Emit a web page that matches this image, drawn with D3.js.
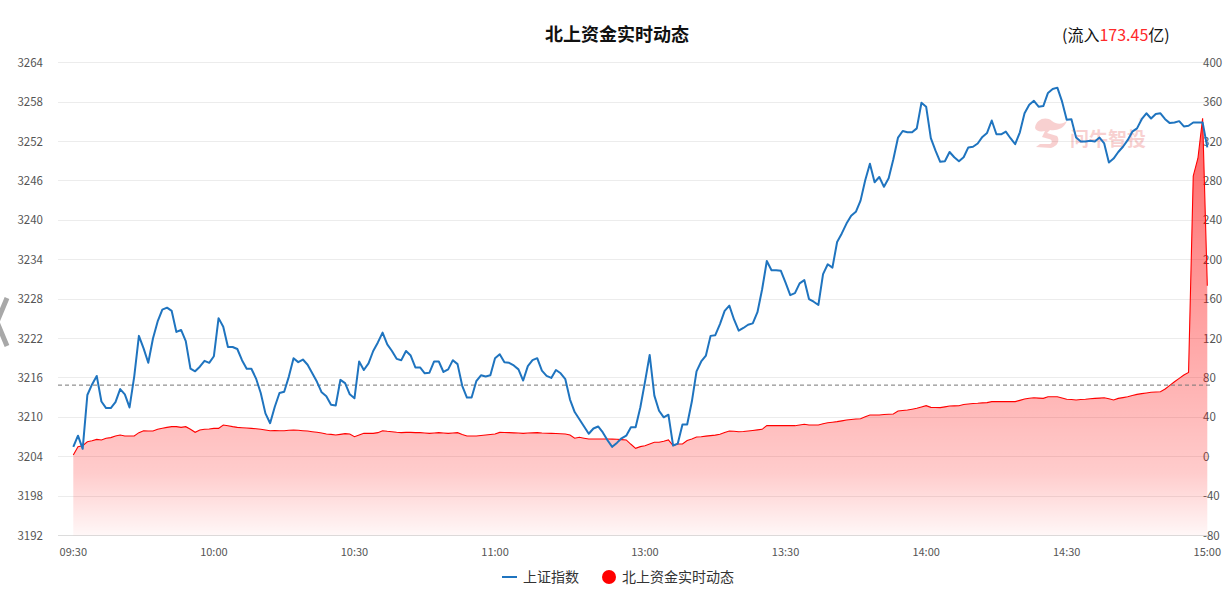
<!DOCTYPE html>
<html>
<head>
<meta charset="utf-8">
<script src="https://cdn.jsdelivr.net/npm/d3@7"></script>
<style>
  html, body { margin: 0; padding: 0; background: #fff; }
  svg { display: block; font-family: "Noto Sans CJK SC", "Noto Sans", sans-serif; }
</style>
</head>
<body>
<svg id="chart" width="1225" height="605"></svg>
<script>
// ---------- data ----------
// time categories: morning session, then afternoon session
const morningTimes = [];
for (let m = 9 * 60 + 30; m <= 11 * 60 + 30; m++) morningTimes.push(m);
const afternoonTimes = [];
for (let m = 12 * 60 + 59; m <= 15 * 60; m++) afternoonTimes.push(m);
const fmt = m => String(Math.floor(m / 60)).padStart(2, "0") + ":" + String(m % 60).padStart(2, "0");
const times = morningTimes.concat(afternoonTimes).map(fmt);

const xTickLabels = ["09:30", "10:00", "10:30", "11:00", "13:00", "13:30", "14:00", "14:30", "15:00"];
const leftTicks = [3192, 3198, 3204, 3210, 3216, 3222, 3228, 3234, 3240, 3246, 3252, 3258, 3264];
const rightTicks = [-80, -40, 0, 40, 80, 120, 160, 200, 240, 280, 320, 360, 400];
const prevClose = 3214.9;
const inflowTotal = "173.45";

// 上证指数
const shIndex = [
  3205.5, 3207.2, 3205.2, 3213.4, 3215.0, 3216.3, 3212.4, 3211.4, 3211.4, 3212.3,
  3214.3, 3213.5, 3211.5, 3216.2, 3222.4, 3220.5, 3218.3, 3222.0, 3224.6, 3226.4,
  3226.7, 3226.2, 3223.0, 3223.3, 3221.6, 3217.4, 3217.0, 3217.7, 3218.6, 3218.3,
  3219.3, 3225.1, 3223.8, 3220.7, 3220.7, 3220.4, 3218.7, 3217.4, 3217.4, 3215.9,
  3213.7, 3210.6, 3209.1, 3211.6, 3213.7, 3213.9, 3216.2, 3219.0, 3218.4, 3218.8,
  3218.0, 3216.7, 3215.4, 3213.8, 3213.2, 3211.9, 3211.8, 3215.7, 3215.2, 3213.5,
  3212.9, 3218.5, 3217.2, 3218.2, 3220.1, 3221.4, 3222.9, 3221.1, 3220.1, 3218.9,
  3218.7, 3220.1, 3219.4, 3217.6, 3217.6, 3216.7, 3216.8, 3218.5, 3218.5, 3216.9,
  3217.3, 3218.7, 3218.1, 3214.8, 3213.0, 3213.0, 3215.5, 3216.4, 3216.2, 3216.4,
  3219.0, 3219.6, 3218.4, 3218.3, 3217.9, 3217.3, 3215.6, 3217.8, 3218.7, 3219.0,
  3217.1, 3216.3, 3216.0, 3217.2, 3216.7, 3215.8, 3212.7, 3210.8, 3209.7, 3208.6,
  3207.5, 3208.3, 3208.6, 3207.7, 3206.5, 3205.5, 3206.1, 3206.8, 3207.2, 3208.5,
  3208.5, 3211.5, 3215.4, 3219.5, 3213.3, 3211.0, 3210.0, 3210.4, 3205.7, 3206.0,
  3208.9, 3208.9, 3212.4, 3217.0, 3218.5, 3219.4, 3222.4, 3222.5, 3224.2, 3226.2,
  3227.0, 3224.9, 3223.2, 3223.6, 3224.1, 3224.3, 3226.0, 3229.5, 3233.8, 3232.4,
  3232.4, 3232.3, 3230.5, 3228.6, 3228.9, 3230.4, 3230.9, 3228.0, 3227.6, 3227.1,
  3231.8, 3233.3, 3232.8, 3236.7, 3238.0, 3239.5, 3240.7, 3241.3, 3243.0, 3246.1,
  3248.6, 3245.8, 3246.6, 3245.1, 3246.4, 3249.3, 3252.6, 3253.6, 3253.4, 3253.4,
  3254.0, 3257.9, 3257.3, 3252.5, 3250.6, 3248.9, 3249.0, 3250.4, 3249.6, 3249.0,
  3249.6, 3251.1, 3251.2, 3251.7, 3252.7, 3253.3, 3255.2, 3253.1, 3253.1, 3253.5,
  3252.5, 3251.6, 3253.4, 3256.3, 3257.6, 3258.2, 3257.3, 3257.4, 3259.4, 3260.0,
  3260.2, 3258.1, 3255.3, 3255.4, 3252.6, 3252.0, 3252.0, 3252.1, 3252.0, 3252.6,
  3251.7, 3248.8, 3249.4, 3250.4, 3251.2, 3252.2, 3253.5, 3254.0, 3255.4, 3256.3,
  3255.5, 3256.2, 3256.3, 3255.4, 3254.8, 3254.9, 3255.1, 3254.3, 3254.4, 3254.9,
  3254.9, 3254.9, 3251.1
];

// 北上资金实时动态 (亿)
const northFlow = [
  1.7, 10.2, 11.2, 15.2, 16.2, 17.6, 17.0, 18.7, 19.4, 21.0,
  22.0, 21.0, 21.0, 21.0, 24.4, 26.4, 26.1, 26.1, 27.8, 28.8,
  29.8, 30.5, 30.5, 29.8, 30.5, 27.8, 24.8, 27.1, 27.8, 28.1,
  28.8, 28.8, 32.2, 31.5, 30.5, 29.8, 29.4, 29.1, 28.8, 28.4,
  27.8, 27.1, 26.4, 26.6, 26.4, 26.4, 26.8, 27.1, 26.8, 26.4,
  26.1, 25.4, 24.8, 24.1, 23.1, 22.7, 22.0, 22.7, 23.4, 23.1,
  20.3, 22.0, 23.7, 23.7, 23.7, 24.4, 26.4, 25.8, 25.4, 24.8,
  24.4, 24.7, 24.7, 24.4, 24.4, 24.0, 23.7, 24.0, 24.4, 24.0,
  23.7, 24.0, 24.4, 22.5, 21.0, 21.0, 21.0, 21.5, 22.0, 22.5,
  23.0, 24.7, 24.5, 24.4, 24.2, 24.0, 23.7, 24.0, 24.2, 24.4,
  24.0, 23.8, 23.7, 23.5, 23.3, 23.0, 22.0, 18.7, 19.7, 18.8,
  18.0, 18.0, 18.0, 18.0, 17.9, 17.8, 17.7, 17.3, 17.0, 12.6,
  8.5, 10.2, 11.2, 12.9, 14.6, 14.6, 15.6, 17.0, 11.2, 12.9,
  12.9, 16.5, 18.0, 20.0, 20.3, 20.9, 21.4, 21.9, 22.7, 24.5,
  26.1, 25.8, 25.4, 25.6, 26.1, 26.6, 27.2, 27.8, 31.5, 31.5,
  31.5, 31.5, 31.5, 31.5, 31.5, 32.2, 32.9, 32.2, 32.2, 32.2,
  33.5, 34.5, 35.0, 35.6, 36.4, 37.3, 37.8, 38.2, 38.6, 40.5,
  42.3, 42.3, 42.3, 42.8, 43.1, 43.4, 46.4, 46.9, 47.4, 48.2,
  49.1, 50.5, 51.8, 50.1, 49.9, 49.8, 50.6, 51.5, 51.6, 51.8,
  53.0, 53.5, 54.0, 54.2, 54.6, 54.9, 55.9, 55.9, 55.9, 55.9,
  55.9, 55.9, 57.2, 58.6, 59.3, 59.9, 59.5, 59.2, 60.9, 60.9,
  60.9, 59.6, 58.3, 58.0, 57.6, 58.0, 58.3, 58.8, 59.2, 59.5,
  59.9, 58.8, 57.6, 59.2, 60.0, 60.9, 62.1, 63.3, 64.0, 64.7,
  65.4, 65.7, 66.0, 68.7, 72.4, 76.1, 79.5, 82.9, 85.6, 285.0,
  303.0, 343.5, 173.45
];

// ---------- drawing ----------
const svg = d3.select("#chart");
const plotTop = 62.7, plotBottom = 535.5;
const gridLeft = 58, gridRight = 1210;

const x = d3.scalePoint().domain(times).range([73.3, 1207.3]);
const yL = d3.scaleLinear().domain([3192, 3264]).range([plotBottom, plotTop]);
const yR = d3.scaleLinear().domain([-80, 400]).range([plotBottom, plotTop]);

// gradient for area
const defs = svg.append("defs");
const grad = defs.append("linearGradient")
  .attr("id", "redGrad").attr("gradientUnits", "userSpaceOnUse")
  .attr("x1", 0).attr("x2", 0)
  .attr("y1", yR(d3.max(northFlow))).attr("y2", plotBottom);
[[0, 0.62], [0.3, 0.45], [0.68, 0.28], [0.85, 0.2], [1, 0.03]].forEach(([o, a]) =>
  grad.append("stop").attr("offset", o).attr("stop-color", "#ff0000").attr("stop-opacity", a));

// grid lines
svg.append("g").selectAll("line").data(leftTicks).join("line")
  .attr("x1", gridLeft).attr("x2", gridRight)
  .attr("y1", d => yL(d)).attr("y2", d => yL(d))
  .attr("stroke", d => d === 3192 ? "#dcdcdc" : "#ececec").attr("stroke-width", 1)
  .attr("shape-rendering", "crispEdges");

// left axis labels
svg.append("g").selectAll("text").data(leftTicks).join("text")
  .attr("x", 43).attr("y", d => yL(d)).attr("dy", "0.35em")
  .attr("text-anchor", "end").attr("font-size", 11.5).attr("fill", "#555")
  .text(d => d);

// right axis labels
svg.append("g").selectAll("text").data(rightTicks).join("text")
  .attr("x", 1203).attr("y", d => yR(d)).attr("dy", "0.35em")
  .attr("text-anchor", "start").attr("font-size", 11.5).attr("fill", "#555")
  .text(d => d);

// x axis labels
svg.append("g").selectAll("text").data(xTickLabels).join("text")
  .attr("x", d => x(d)).attr("y", 552).attr("dy", "0.35em")
  .attr("text-anchor", "middle").attr("font-size", 11).attr("fill", "#555")
  .text(d => d);

// area + red line
const idx = d3.range(times.length);
const area = d3.area().x(i => x(times[i])).y0(plotBottom).y1(i => yR(northFlow[i]));
svg.append("path").datum(idx).attr("d", area).attr("fill", "url(#redGrad)");
const redLine = d3.line().x(i => x(times[i])).y(i => yR(northFlow[i]));
svg.append("path").datum(idx).attr("d", redLine)
  .attr("fill", "none").attr("stroke", "#ff0000").attr("stroke-width", 1.1);

// previous close dashed line
svg.append("line")
  .attr("x1", gridLeft).attr("x2", gridRight)
  .attr("y1", yL(prevClose)).attr("y2", yL(prevClose))
  .attr("stroke", "#777").attr("stroke-width", 1).attr("stroke-dasharray", "4,3");

// watermark
const wm = svg.append("g").attr("opacity", 0.22);
wm.append("path")
  .attr("d", "M1035,128 C1036,119 1046,116 1052,121 C1057,125 1063,124 1067,121 C1064,129 1056,131 1050,130 L1047,133 L1057,136 C1060,140 1058,146 1051,148 L1036,147 L1040,144 L1050,144 C1053,143 1052,139 1049,139 L1042,137 L1045,131 C1040,132 1036,131 1035,128 Z")
  .attr("fill", "#e03030");
wm.append("text").attr("x", 1070).attr("y", 146)
  .attr("font-size", 19).attr("font-weight", "bold").attr("fill", "#e03030")
  .text("问牛智投");
wm.append("text").attr("x", 1139).attr("y", 124)
  .attr("font-size", 8).attr("fill", "#e03030").text("®");

// blue line
const blueLine = d3.line().x(i => x(times[i])).y(i => yL(shIndex[i]));
svg.append("path").datum(idx).attr("d", blueLine)
  .attr("fill", "none").attr("stroke", "#1f74bf").attr("stroke-width", 2)
  .attr("stroke-linejoin", "round");

// title
svg.append("text").attr("x", 617).attr("y", 35).attr("dy", "0.35em")
  .attr("text-anchor", "middle").attr("font-size", 18).attr("font-weight", "bold")
  .attr("fill", "#111").text("北上资金实时动态");

// inflow summary
const sub = svg.append("text").attr("x", 1062).attr("y", 35).attr("dy", "0.35em")
  .attr("font-size", 16).attr("fill", "#111");
sub.append("tspan").text("(流入");
sub.append("tspan").attr("fill", "#ff2a2a").text(inflowTotal);
sub.append("tspan").text("亿)");

// legend
const lg = svg.append("g");
lg.append("line").attr("x1", 502).attr("x2", 517).attr("y1", 577).attr("y2", 577)
  .attr("stroke", "#1f74bf").attr("stroke-width", 2);
lg.append("text").attr("x", 523).attr("y", 577).attr("dy", "0.35em")
  .attr("font-size", 14).attr("fill", "#333").text("上证指数");
lg.append("circle").attr("cx", 609).attr("cy", 577).attr("r", 7).attr("fill", "#ff0000");
lg.append("text").attr("x", 622).attr("y", 577).attr("dy", "0.35em")
  .attr("font-size", 14).attr("fill", "#333").text("北上资金实时动态");

// left edge chevron (partially visible control)
svg.append("path").attr("d", "M7,298 L-3,322 L7,346")
  .attr("fill", "none").attr("stroke", "#a8a8a8").attr("stroke-width", 5);
</script>
</body>
</html>
